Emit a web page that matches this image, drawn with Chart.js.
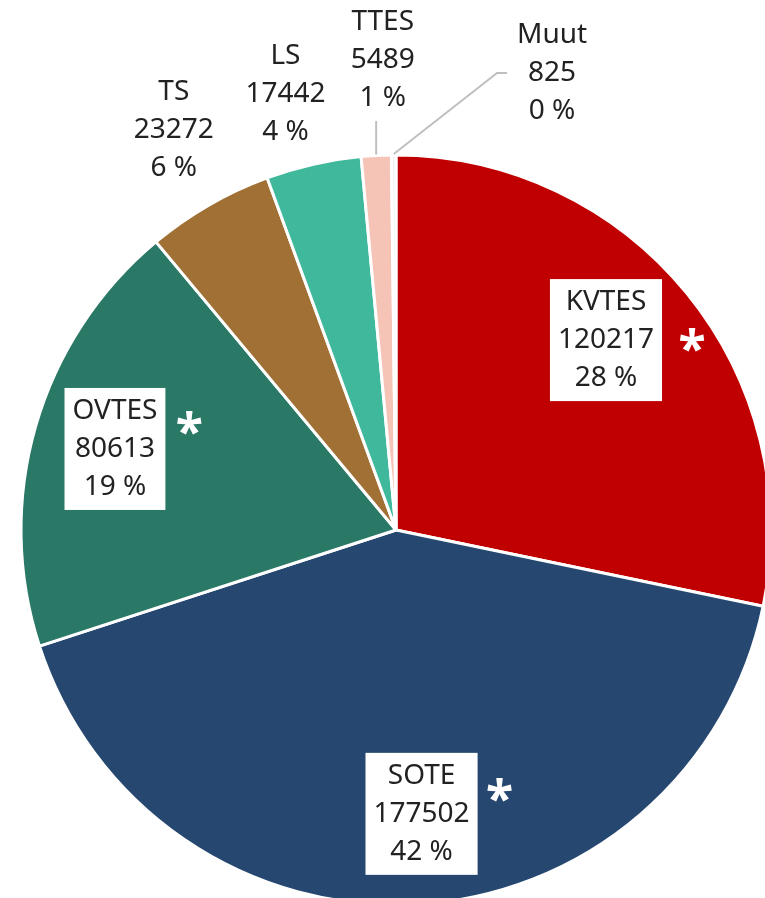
<!DOCTYPE html>
<html>
<head>
<meta charset="utf-8">
<script src="https://cdn.jsdelivr.net/npm/chart.js@4.4.1/dist/chart.umd.min.js"></script>
<style>
  html, body { margin: 0; padding: 0; background: #fff; overflow: hidden; }
  canvas { display: block; }
</style>
</head>
<body>
<canvas id="pie" width="792" height="1060"></canvas>
<script>
// data
const categories = ['KVTES', 'SOTE', 'OVTES', 'TS', 'LS', 'TTES', 'Muut'];
const values = [120217, 177502, 80613, 23272, 17442, 5489, 825];
const percents = [28, 42, 19, 6, 4, 1, 0];
const starred = [true, true, true, false, false, false, false];
const sliceColors = ['#C00000', '#264870', '#2A7866', '#A07034', '#3FB89C', '#F6C3B7', '#F2F2F2'];

// label placement: radius factor, angle shift (deg), boxed inside?, leader type, asterisk offset
const labelPlace = [
    { f: 0.755, da: -3, box: true, star: [30, 0] },
    { f: 0.76, da: -2, box: true, star: [22, -24] },
    { f: 0.78, da: 0, box: true, star: [24, -26] },
    { f: 1.22, da: 0.9 },
    { f: 1.2, da: -1.5 },
    { f: 1.253, da: 1.4, leader: 'up' },
    { f: 1.288, da: 19.2, leader: 'elbow' }
];

const FONT = '28px "Noto Sans"';
const LINE_H = 38;
const TEXT_COL = '#222222';

const labelPlugin = {
    id: 'sliceLabels',
    afterDatasetsDraw(chart) {
        const ctx = chart.ctx;
        const arcs = chart.getDatasetMeta(0).data;
        ctx.save();
        arcs.forEach((arc, i) => {
            const p = arc.getProps(['x', 'y', 'startAngle', 'endAngle', 'outerRadius'], true);
            const cfg = labelPlace[i];
            const mid = (p.startAngle + p.endAngle) / 2;
            const a = mid + cfg.da * Math.PI / 180;
            const lx = p.x + Math.cos(a) * p.outerRadius * cfg.f;
            const ly = p.y + Math.sin(a) * p.outerRadius * cfg.f;
            const lines = [categories[i], String(values[i]), percents[i] + ' %'];

            ctx.font = FONT;
            // leader lines
            if (cfg.leader) {
                const sx = p.x + Math.cos(mid) * (p.outerRadius + 1);
                const sy = p.y + Math.sin(mid) * (p.outerRadius + 1);
                ctx.strokeStyle = '#BFBFBF';
                ctx.lineWidth = 2;
                ctx.beginPath();
                ctx.moveTo(sx, sy);
                if (cfg.leader === 'up') {
                    ctx.lineTo(sx, ly + LINE_H * 1.6);
                } else {
                    ctx.lineTo(lx - 55, ly);
                    ctx.lineTo(lx - 45, ly);
                }
                ctx.stroke();
            }

            let boxRight = lx;
            if (cfg.box) {
                const w = Math.max(...lines.map(t => ctx.measureText(t).width)) + 16;
                const h = LINE_H * 3 + 8;
                ctx.fillStyle = '#fff';
                ctx.fillRect(lx - w / 2, ly - h / 2, w, h);
                boxRight = lx + w / 2;
            }

            ctx.fillStyle = TEXT_COL;
            ctx.textAlign = 'center';
            ctx.textBaseline = 'middle';
            lines.forEach((t, k) => {
                ctx.fillText(t, lx, ly + (k - 1) * LINE_H);
            });

            if (starred[i]) {
                ctx.font = 'bold 50px "Noto Sans"';
                ctx.fillStyle = '#fff';
                ctx.textBaseline = 'alphabetic';
                const m = ctx.measureText('*');
                const cy = ly + cfg.star[1];
                const base = cy + (m.actualBoundingBoxAscent - m.actualBoundingBoxDescent) / 2;
                ctx.fillText('*', boxRight + cfg.star[0], base);
            }
        });
        ctx.restore();
    }
};

new Chart(document.getElementById('pie'), {
    type: 'pie',
    data: {
        labels: categories,
        datasets: [{
            data: values,
            backgroundColor: sliceColors,
            borderColor: '#fff',
            borderWidth: 3
        }]
    },
    options: {
        responsive: false,
        animation: false,
        radius: 375,
        layout: { padding: 0 },
        plugins: {
            legend: { display: false },
            tooltip: { enabled: false }
        }
    },
    plugins: [labelPlugin]
});
</script>
</body>
</html>
